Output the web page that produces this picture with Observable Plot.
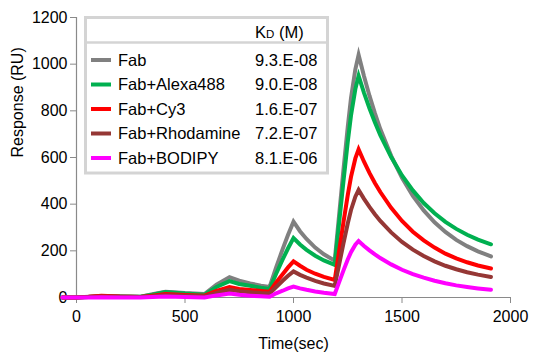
<!DOCTYPE html>
<html>
<head>
<meta charset="utf-8">
<script src="https://cdn.jsdelivr.net/npm/d3@7"></script>
<script src="https://cdn.jsdelivr.net/npm/@observablehq/plot@0.6"></script>
<style>
  html, body { margin: 0; padding: 0; background: white; }
  #chart { width: 533px; height: 358px; }
  svg [aria-label^="x-axis"] line, svg [aria-label^="y-axis"] line,
  svg [aria-label^="x-axis"] path, svg [aria-label^="y-axis"] path { stroke: #8a8a8a; }
</style>
</head>
<body>
<div id="chart"></div>
<script>
// ---- data ----
const names = ["Fab", "Fab+Alexa488", "Fab+Cy3", "Fab+Rhodamine", "Fab+BODIPY"];
const kd = ["9.3.E-08", "9.0.E-08", "1.6.E-07", "7.2.E-07", "8.1.E-06"];
const colors = ["#808080", "#00b050", "#ff0000", "#953735", "#ff00ff"];
const times = [-65, 0, 55, 115, 200, 295, 350, 410, 500, 590, 645, 705, 750, 800, 850, 890, 920, 950, 975, 1000,
  1030, 1060, 1100, 1140, 1190, 1210, 1230, 1250, 1265, 1285, 1300, 1325, 1350, 1375, 1400, 1450, 1500, 1550, 1600, 1650, 1700, 1750, 1800, 1850, 1910];
const fab       = [0, 0, 3, 6, 4, 3, 14, 25, 19, 15, 55, 87, 72, 60, 51, 45, 129, 207, 269, 325,
  284, 251, 214, 185, 158, 352, 546, 731, 855, 978, 1040, 948, 865, 790, 722, 607, 513, 436, 373, 322, 281, 247, 220, 198, 176];
const alexa488  = [0, 0, 2, 5, 4, 3, 12, 24, 17, 12, 45, 70, 58, 50, 42, 37, 102, 163, 211, 255,
  227, 204, 179, 159, 140, 318, 496, 667, 780, 893, 950, 877, 811, 751, 696, 602, 523, 459, 405, 361, 324, 294, 269, 248, 228];
const cy3       = [0, 0, 3, 8, 4, 2, 8, 15, 11, 8, 28, 45, 37, 32, 28, 25, 64, 100, 129, 155,
  136, 119, 102, 88, 75, 198, 321, 439, 517, 596, 635, 582, 534, 491, 452, 384, 328, 282, 245, 214, 188, 168, 151, 137, 124];
const rhodamine = [0, 0, 2, 4, 3, 2, 5, 10, 7, 5, 20, 33, 27, 23, 19, 17, 45, 72, 93, 112,
  97, 85, 71, 60, 50, 140, 231, 317, 375, 432, 461, 423, 388, 357, 328, 279, 238, 205, 178, 155, 136, 121, 108, 98, 88];
const bodipy    = [0, 0, 0, 1, 0, 0, 2, 4, 2, 0, 9, 17, 12, 8, 5, 3, 18, 29, 39, 47,
  39, 33, 26, 20, 15, 65, 115, 163, 194, 226, 242, 221, 202, 185, 169, 142, 119, 100, 85, 72, 61, 52, 45, 39, 33];
const xTicks = [0, 500, 1000, 1500, 2000];
const yTicks = [0, 200, 400, 600, 800, 1000, 1200];

const series = [fab, alexa488, cy3, rhodamine, bodipy];
const rows = [];
series.forEach((vals, i) => vals.forEach((v, j) => rows.push({name: names[i], t: times[j], v})));

const font = "'Liberation Sans', Arial, sans-serif";
const chart = Plot.plot({
  width: 533, height: 358,
  marginLeft: 76, marginRight: 23, marginTop: 17, marginBottom: 61,
  style: {fontFamily: font, fontSize: "16px", background: "white", color: "black", overflow: "visible"},
  x: {domain: [0, 2000], ticks: xTicks, tickSize: 6, tickPadding: 7, label: null, tickFormat: d => `${d}`},
  y: {domain: [0, 1200], ticks: yTicks, tickSize: 6, tickPadding: 3, label: null, tickFormat: d => `${d}`},
  color: {domain: names, range: colors},
  marks: [
    Plot.ruleX([0], {stroke: "#8a8a8a", strokeWidth: 1.2}),
    Plot.ruleY([0], {stroke: "#8a8a8a", strokeWidth: 1.2}),
    Plot.line(rows, {x: "t", y: "v", z: "name", stroke: "name", strokeWidth: 4, strokeLinejoin: "miter", strokeMiterlimit: 10}),
    Plot.text(["Response (RU)"], {text: d => d, frameAnchor: "left", dx: -59, rotate: -90, fontSize: 16, fill: "black"}),
    Plot.text(["Time(sec)"], {text: d => d, frameAnchor: "bottom", dy: 51, fontSize: 16, fill: "black"})
  ]
});
document.getElementById("chart").appendChild(chart);

// ---- legend box ----
const svg = d3.select(chart);
const g = svg.append("g").attr("font-family", font).attr("font-size", 16.5)
  .attr("fill", "black").attr("text-anchor", "start");
g.append("rect").attr("x", 85.5).attr("y", 17.5).attr("width", 242).attr("height", 155.5)
  .attr("fill", "white").attr("stroke", "#d4d4d4").attr("stroke-width", 3);
g.append("line").attr("x1", 85).attr("x2", 328).attr("y1", 42.5).attr("y2", 42.5)
  .attr("stroke", "#d4d4d4").attr("stroke-width", 2.5);
const hdr = g.append("text").attr("x", 255).attr("y", 37.7).attr("text-anchor", "start");
hdr.append("tspan").text("K");
hdr.append("tspan").attr("font-size", 11.5).text("D");
hdr.append("tspan").text(" (M)");
names.forEach((n, i) => {
  const cy = 60 + i * 24.5;
  g.append("line").attr("x1", 91).attr("x2", 111).attr("y1", cy).attr("y2", cy)
    .attr("stroke", colors[i]).attr("stroke-width", 4);
  g.append("text").attr("x", 118).attr("y", cy + 5.5).attr("text-anchor", "start").text(n);
  g.append("text").attr("x", 255).attr("y", cy + 5.5).attr("text-anchor", "start").text(kd[i]);
});
</script>
</body>
</html>
